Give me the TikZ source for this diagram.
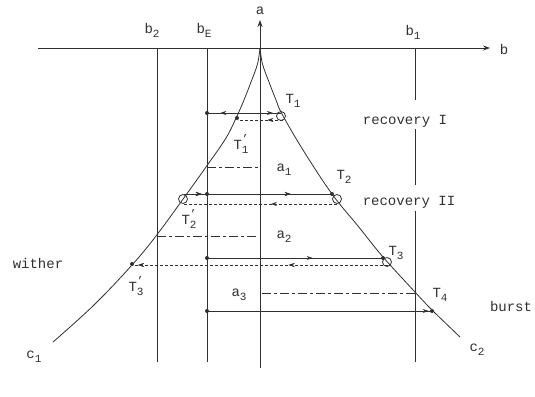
\documentclass[tikz,border=0pt]{standalone}
\usepackage{fontspec}
\setmainfont{Liberation Mono}
\usetikzlibrary{arrows.meta,decorations.markings}
\definecolor{ink}{HTML}{303030}
\newcommand{\lsub}[2]{#1\raisebox{-0.55ex}{\fontsize{11}{12}\selectfont #2}}
\newcommand{\lpsub}[2]{#1\makebox[0pt][l]{\raisebox{0.95ex}{\fontsize{11}{12}\selectfont '}}\raisebox{-0.55ex}{\fontsize{11}{12}\selectfont #2}}
\begin{document}
\begin{tikzpicture}[x=1pt,y=-1pt,line width=0.8pt,
  lbl/.style={font=\fontsize{14}{16}\selectfont,text=ink,inner sep=0pt},
  ln/.style={draw=ink},
  dashln/.style={draw=ink,dash pattern=on 3pt off 2pt},
  dashdot/.style={draw=ink,dash pattern=on 9pt off 3pt on 3pt off 3pt},
  tipat/.style={postaction={decorate},decoration={markings,mark=at position #1 with {\arrow{Stealth[length=6pt,width=4pt]}}}},
  axis/.style={draw=ink,-{Stealth[length=7pt,width=5pt]}},
  dotn/.style={circle,fill=ink,inner sep=0pt,minimum size=4pt},
  loopc/.style={circle,draw=ink,line width=0.8pt,inner sep=0pt,minimum size=9pt}]
\useasboundingbox (0,0) rectangle (535,396);
% axes
\coordinate (Bl) at (38,48); \coordinate (Br) at (490,48);
\coordinate (Ab) at (260,368); \coordinate (At) at (260,20);
\draw[axis] (Bl) -- (Br);
\draw[axis] (Ab) -- (At);
\node[lbl] (lb) at (504,49) {b};
\node[lbl] (la) at (260,11) {a};
% verticals
\coordinate (b2t) at (157,48); \coordinate (b2b) at (157,362);
\coordinate (bEt) at (207,48); \coordinate (bEb) at (207,362);
\coordinate (b1t) at (415,48); \coordinate (b1g1) at (415,100);
\coordinate (b1g2) at (415,129); \coordinate (b1g3) at (415,185);
\coordinate (b1g4) at (415,211); \coordinate (b1b) at (415,362);
\draw[ln] (b2t) -- (b2b);
\draw[ln] (bEt) -- (bEb);
\draw[ln] (b1t) -- (b1g1) (b1g2) -- (b1g3) (b1g4) -- (b1b);
\node[lbl] (lb2) at (152,30) {\lsub{b}{2}};
\node[lbl] (lbE) at (204,30) {\lsub{b}{E}};
\node[lbl] (lb1) at (413,32) {\lsub{b}{1}};
% curves
\draw[ln] plot[smooth,tension=0.6] coordinates {(260,48) (257.5,64) (251,82) (244,100) (237,116) (226,138) (206,167) (186,195) (156,236) (132,265) (94,305) (53,342)};
\draw[ln] plot[smooth,tension=0.6] coordinates {(260,48) (262.5,64) (269,82) (276,100) (282,114) (303,150) (332,194) (358,226) (383,257) (415,292) (432,310) (460,337)};
\node[lbl] (lc1) at (34,357) {\lsub{c}{1}};
\node[lbl] (lc2) at (477,350) {\lsub{c}{2}};
% points
\coordinate (E1) at (207,113); \coordinate (A1) at (260,113); \coordinate (T1) at (281,113);
\coordinate (T1d) at (283,120); \coordinate (T1p) at (238,120);
\coordinate (T2p) at (184,194); \coordinate (E2) at (207,194); \coordinate (T2) at (332,194);
\coordinate (T2d) at (337,204); \coordinate (T2pd) at (183,204);
\coordinate (E3) at (207,258); \coordinate (T3) at (383,258);
\coordinate (T3d) at (388,265); \coordinate (T3p) at (133,265);
\coordinate (E4) at (207,311); \coordinate (T4) at (432,311);
\coordinate (a1s) at (207,167); \coordinate (a1e) at (259,167);
\coordinate (a2s) at (157,236); \coordinate (a2e) at (258,236);
\coordinate (a3s) at (262,293); \coordinate (a3e) at (415,293);
% level 1
\draw[ln,tipat=0.75] (A1) -- (E1);
\draw[ln,tipat=0.62] (A1) -- (T1);
\draw[dashln,tipat=0.35] (T1d) -- (T1p);
\node[loopc] (L1) at (281,116) {};
\node[dotn] (d1) at (E1) {};
\node[dotn] (d1p) at (237,118) {};
% a1
\draw[dashdot] (a1s) -- (a1e);
% level 2
\draw[ln,tipat=0.12,tipat=0.72] (T2p) -- (T2);
\draw[dashln,tipat=0.43] (T2d) -- (T2pd);
\node[loopc] (L2) at (337,199) {};
\node[loopc] (L2p) at (183,199) {};
\node[dotn] (d2) at (E2) {};
\node[dotn] (d2t) at (T2) {};
% a2
\draw[dashdot] (a2s) -- (a2e);
% level 3
\draw[ln,tipat=0.6] (E3) -- (T3);
\draw[dashln,tipat=0.39,tipat=0.98] (T3d) -- (T3p);
\node[loopc] (L3) at (387,262) {};
\node[dotn] (d3) at (E3) {};
\node[dotn] (d3t) at (T3) {};
\node[dotn] (d3p) at (132,264) {};
% a3
\draw[dashdot] (a3s) -- (a3e);
% level 4
\draw[ln,tipat=0.985] (E4) -- (T4);
\node[dotn] (d4) at (E4) {};
\node[dotn] (d4t) at (T4) {};
% labels
\node[lbl] (lT1) at (293,101) {\lsub{T}{1}};
\node[lbl] (lT1p) at (241,144) {\lpsub{T}{1}};
\node[lbl] (lT2) at (344,177) {\lsub{T}{2}};
\node[lbl] (lT2p) at (189,219) {\lpsub{T}{2}};
\node[lbl] (lT3) at (396,253) {\lsub{T}{3}};
\node[lbl] (lT3p) at (136,286) {\lpsub{T}{3}};
\node[lbl] (lT4) at (440,295) {\lsub{T}{4}};
\node[lbl] (la1) at (284,170) {\lsub{a}{1}};
\node[lbl] (la2) at (284,237) {\lsub{a}{2}};
\node[lbl] (la3) at (239,295) {\lsub{a}{3}};
\node[lbl] (lr1) at (405,121) {recovery I};
\node[lbl] (lr2) at (409,202) {recovery II};
\node[lbl] (lw) at (38,263) {wither};
\node[lbl] (lbu) at (511,306) {burst};
\end{tikzpicture}
\end{document}
